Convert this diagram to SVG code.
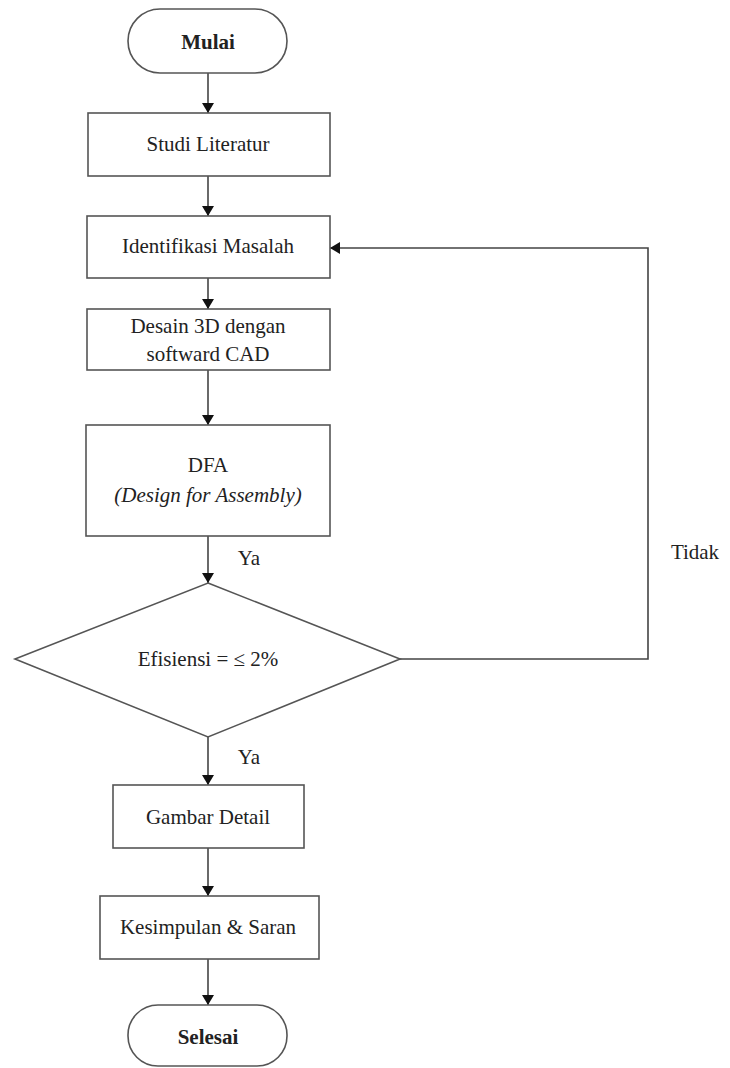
<svg xmlns="http://www.w3.org/2000/svg" width="730" height="1068" viewBox="0 0 730 1068">
<style>
.box{fill:#fff;stroke:#555;stroke-width:1.6}
.ln{fill:none;stroke:#444;stroke-width:1.6}
.t{font-family:"Liberation Serif","Times New Roman",serif;font-size:21px;fill:#222;text-anchor:middle}
.b{font-weight:bold}
.i{font-style:italic}
</style>
<defs>
<marker id="ah" markerWidth="10" markerHeight="12" refX="10" refY="6" orient="auto" markerUnits="userSpaceOnUse">
<path d="M0,0 L10,6 L0,12 Z" fill="#111"/>
</marker>
</defs>
<rect width="730" height="1068" fill="#fff"/>
<g id="connectors">
<line class="ln" x1="208" y1="73" x2="208" y2="113" marker-end="url(#ah)"/>
<line class="ln" x1="208" y1="176" x2="208" y2="216" marker-end="url(#ah)"/>
<line class="ln" x1="208" y1="278" x2="208" y2="309" marker-end="url(#ah)"/>
<line class="ln" x1="208" y1="370" x2="208" y2="425" marker-end="url(#ah)"/>
<line class="ln" x1="208" y1="536" x2="208" y2="583" marker-end="url(#ah)"/>
<line class="ln" x1="208" y1="737" x2="208" y2="785" marker-end="url(#ah)"/>
<line class="ln" x1="208" y1="848" x2="208" y2="896" marker-end="url(#ah)"/>
<line class="ln" x1="208" y1="959" x2="208" y2="1005" marker-end="url(#ah)"/>
<polyline class="ln" points="400,659 648,659 648,248 330,248" marker-end="url(#ah)"/>
<text class="t" x="249" y="565">Ya</text>
<text class="t" x="249" y="764">Ya</text>
<text class="t" x="695" y="559">Tidak</text>
</g>
<g id="mulai">
<rect class="box" x="128" y="9" width="159" height="64" rx="32"/>
<text class="t b" x="208" y="49">Mulai</text>
</g>
<g id="studi">
<rect class="box" x="88" y="113" width="242" height="63"/>
<text class="t" x="208" y="151">Studi Literatur</text>
</g>
<g id="identifikasi">
<rect class="box" x="87" y="216" width="243" height="62"/>
<text class="t" x="208" y="253">Identifikasi Masalah</text>
</g>
<g id="desain">
<rect class="box" x="87" y="309" width="243" height="61"/>
<text class="t" x="208" y="333">Desain 3D dengan</text>
<text class="t" x="208" y="361">softward CAD</text>
</g>
<g id="dfa">
<rect class="box" x="86" y="425" width="244" height="111"/>
<text class="t" x="208" y="472">DFA</text>
<text class="t i" x="208" y="502" fill="#333">(Design for Assembly)</text>
</g>
<g id="efisiensi">
<polygon class="box" points="208,583 400,659 208,737 15,659"/>
<text class="t" x="208" y="666">Efisiensi = ≤ 2%</text>
</g>
<g id="gambar">
<rect class="box" x="113" y="785" width="191" height="63"/>
<text class="t" x="208" y="824">Gambar Detail</text>
</g>
<g id="kesimpulan">
<rect class="box" x="100" y="896" width="219" height="63"/>
<text class="t" x="208" y="934">Kesimpulan &amp; Saran</text>
</g>
<g id="selesai">
<rect class="box" x="128" y="1005" width="159" height="61" rx="30"/>
<text class="t b" x="208" y="1044">Selesai</text>
</g>
</svg>
